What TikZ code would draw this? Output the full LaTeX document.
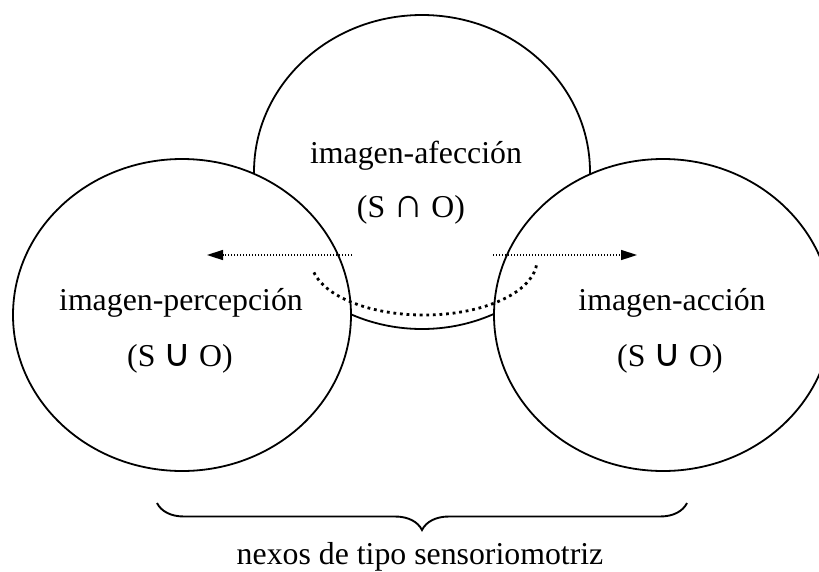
\documentclass[tikz,border=0pt]{standalone}
\usepackage{fontspec}
\setmainfont{Liberation Serif}
\newfontfamily\symfont{DejaVu Sans}
\usetikzlibrary{shapes.geometric,arrows.meta,decorations.pathreplacing}

\newcommand{\unionsym}{{\symfont\fontsize{38}{42}\selectfont ∪}}
\newcommand{\intersym}{{\fontsize{42}{46}\selectfont ∩}}

\begin{document}
\begin{tikzpicture}[x=1pt,y=-1pt,
  blob/.style={draw, line width=1.8pt, ellipse, inner sep=0pt},
  cover/.style={blob, fill=white},
  txt/.style={font=\fontsize{31.8}{37}\selectfont, inner sep=0pt, anchor=base},
  fineflow/.style={line width=1.5pt, dash pattern=on 1.3pt off 1.7pt,
    -{Triangle[length=16pt,width=10pt]}},
  loopflow/.style={line width=2.8pt, dash pattern=on 2.8pt off 3.8pt},
  bracestyle/.style={line width=1.9pt, decorate,
    decoration={brace, mirror, amplitude=27pt}}]
\useasboundingbox (0,0) rectangle (819,571);
\clip (0,0) rectangle (819,571);

% the three images: the affection image sits behind the other two
\node[blob, minimum width=336pt, minimum height=314pt] (afec) at (422,172) {};
\node[cover, minimum width=338pt, minimum height=312pt] (perc) at (182,315) {};
\node[cover, minimum width=338pt, minimum height=312pt] (accion) at (663,315) {};

% labels
\node[txt] (tafec) at (416,163) {imagen-afección};
\node[txt] (safec) at (411,217) {(S \intersym{} O)};
\node[txt] (tperc) at (181,310) {imagen-percepción};
\node[txt] (sperc) at (180,366) {(S \unionsym{} O)};
\node[txt] (tacc) at (672,310) {imagen-acción};
\node[txt] (sacc) at (670,366) {(S \unionsym{} O)};

% outgoing movements
\coordinate (la) at (352,255);
\coordinate (lb) at (207,255);
\coordinate (ra) at (493,255);
\coordinate (rb) at (637,255);
\draw[fineflow] (la) -- (lb);
\draw[fineflow] (ra) -- (rb);

% passage between perception and action
\coordinate (arcstart) at (313.9,272.4);
\draw[loopflow] (arcstart) arc[start angle=167, end angle=3, x radius=113, y radius=55];

% brace and caption
\coordinate (b1) at (157,503);
\coordinate (b2) at (687,503);
\draw[bracestyle] (b1) -- (b2);
\node[txt] (nexos) at (420,564) {nexos de tipo sensoriomotriz};
\end{tikzpicture}
\end{document}
